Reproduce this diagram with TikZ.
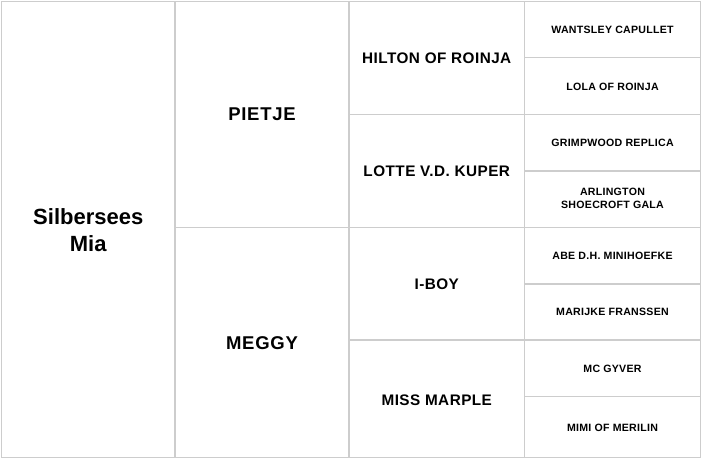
\documentclass[tikz,border=0pt]{standalone}
\usepackage{fontspec}
\setmainfont{Liberation Sans}
\definecolor{gridgray}{RGB}{205,205,205}
\tikzset{
  cell/.style={draw=gridgray, line width=1.4pt},
  lbl/.style={inner sep=0pt, align=center},
  big/.style={lbl, font=\fontsize{22}{27}\selectfont\bfseries},
  mid/.style={lbl, font=\fontsize{18.5}{22}\selectfont\bfseries\addfontfeature{LetterSpace=4}},
  third/.style={lbl, font=\fontsize{15.3}{18}\selectfont\bfseries\addfontfeature{LetterSpace=3}},
  small/.style={lbl, font=\fontsize{10.6}{13.2}\selectfont\bfseries\addfontfeature{LetterSpace=2.5}},
}
\begin{document}
\begin{tikzpicture}[x=1pt,y=-1pt]
\useasboundingbox (0,0) rectangle (702,460);
% column boundaries
\def\xa{1.5}\def\xb{175}\def\xc{349}\def\xd{524.5}\def\xe{700.5}
% generation 1
\draw[cell] (\xa,1.5) rectangle (\xb,457.5);
\node[big] (s) at ({(\xa+\xb)/2},230.5) {Silbersees\\Mia};
% generation 2
\draw[cell] (\xb,1.5) rectangle (\xc,227.3);
\draw[cell] (\xb,227.3) rectangle (\xc,457.5);
\node[mid] (p) at ({(\xb+\xc)/2},114.5) {PIETJE};
\node[mid] (m) at ({(\xb+\xc)/2},343) {MEGGY};
% generation 3
\draw[cell] (\xc,1.5) rectangle (\xd,114.3);
\draw[cell] (\xc,114.3) rectangle (\xd,227.3);
\draw[cell] (\xc,227.3) rectangle (\xd,340);
\draw[cell] (\xc,340) rectangle (\xd,457.5);
\node[third] (h) at ({(\xc+\xd)/2},58) {HILTON OF ROINJA};
\node[third] (l) at ({(\xc+\xd)/2},171) {LOTTE V.D. KUPER};
\node[third] (i) at ({(\xc+\xd)/2},284) {I-BOY};
\node[third] (mm) at ({(\xc+\xd)/2},400) {MISS MARPLE};
% generation 4
\draw[cell] (\xd,1.5) rectangle (\xe,57.6);
\draw[cell] (\xd,57.6) rectangle (\xe,114.3);
\draw[cell] (\xd,114.3) rectangle (\xe,171);
\draw[cell] (\xd,171) rectangle (\xe,227.3);
\draw[cell] (\xd,227.3) rectangle (\xe,284);
\draw[cell] (\xd,284) rectangle (\xe,340);
\draw[cell] (\xd,340) rectangle (\xe,396.7);
\draw[cell] (\xd,396.7) rectangle (\xe,457.5);
\node[small] (g1) at ({(\xd+\xe)/2},29.5) {WANTSLEY CAPULLET};
\node[small] (g2) at ({(\xd+\xe)/2},86.5) {LOLA OF ROINJA};
\node[small] (g3) at ({(\xd+\xe)/2},142.5) {GRIMPWOOD REPLICA};
\node[small] (g4) at ({(\xd+\xe)/2},198.5) {ARLINGTON\\SHOECROFT GALA};
\node[small] (g5) at ({(\xd+\xe)/2},256) {ABE D.H. MINIHOEFKE};
\node[small] (g6) at ({(\xd+\xe)/2},312) {MARIJKE FRANSSEN};
\node[small] (g7) at ({(\xd+\xe)/2},368.5) {MC GYVER};
\node[small] (g8) at ({(\xd+\xe)/2},427.5) {MIMI OF MERILIN};
\end{tikzpicture}
\end{document}
